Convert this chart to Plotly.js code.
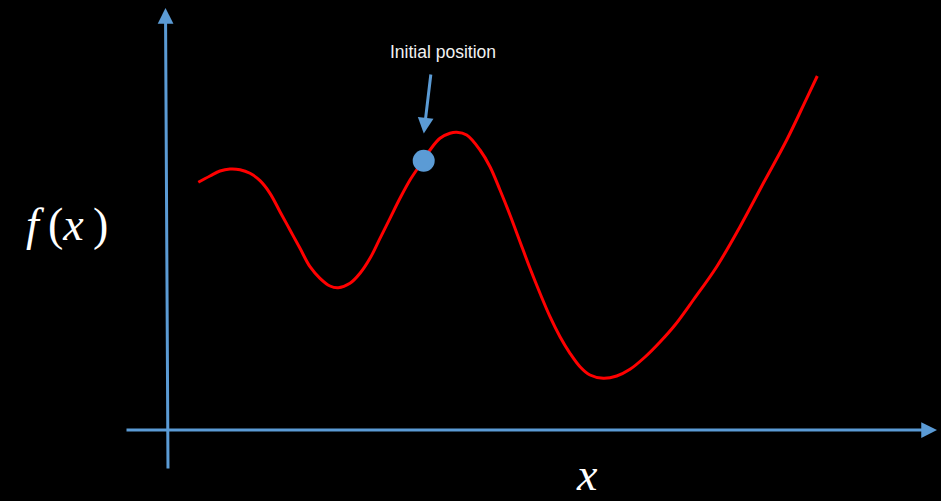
<!DOCTYPE html>
<html>
<head>
<meta charset="utf-8">
<script src="https://cdn.plot.ly/plotly-3.0.1.min.js"></script>
<style>html,body{margin:0;padding:0;background:#000;}#chart{width:941px;height:501px;}</style>
</head>
<body>
<div id="chart"></div>
<script>
// Curve f(x) (origin at the axis crossing)
const curveX = [30.3, 42, 52, 62, 72, 82, 92, 102, 112, 122, 132, 142, 152, 162, 170.3, 182, 192, 202, 212, 222, 232, 242, 252, 262, 272, 282, 288.7, 298.7, 312, 322, 332, 342, 352, 362, 372, 382, 392, 402, 412, 422, 435.3, 448.7, 462, 477, 492, 507, 525.3, 548.7, 572, 595.3, 618.7, 638.7, 649.3];
const curveY = [247.7, 254, 259, 261, 260.3, 256.7, 249.3, 236.7, 218.3, 200, 181.7, 163.3, 151.7, 144, 142.3, 146.7, 156.7, 171.7, 191.7, 211.7, 231.7, 250, 265, 280, 291.7, 296.7, 297.7, 295, 280, 263.3, 240, 215, 188.3, 161.7, 136.7, 113.3, 93.3, 76.7, 63.3, 55, 51.7, 54, 60.7, 73, 88, 105, 130, 163.3, 203.3, 246.7, 290, 331.7, 354];
// Initial position point
const pointX = [255.7];
const pointY = [269.2];
const pointLabel = "Initial position";
const xLabel = "x";
const yLabel = "f(x)";

const blue = "#5B9BD5";

const traces = [
  {x: curveX, y: curveY, mode: "lines", line: {color: "#FF0000", width: 3, shape: "spline", smoothing: 1}, hoverinfo: "skip"},
  {x: pointX, y: pointY, mode: "markers", marker: {color: blue, size: 22}, hoverinfo: "skip"}
];

const layout = {
  width: 941, height: 501,
  margin: {l: 0, r: 0, t: 0, b: 0},
  paper_bgcolor: "#000", plot_bgcolor: "#000",
  showlegend: false,
  xaxis: {range: [-168, 773], visible: false, fixedrange: true},
  yaxis: {range: [-71, 430], visible: false, fixedrange: true},
  annotations: [
    // x axis arrow
    {x: 769, y: 0, ax: -43, ay: 0, xref: "x", yref: "y", axref: "x", ayref: "y",
     showarrow: true, arrowhead: 2, arrowwidth: 3, arrowsize: 1.05, arrowcolor: blue, text: ""},
    // y axis arrow
    {x: -2.5, y: 422, ax: 0, ay: -40, xref: "x", yref: "y", axref: "x", ayref: "y",
     showarrow: true, arrowhead: 2, arrowwidth: 3, arrowsize: 1.05, arrowcolor: blue, text: ""},
    // pointer to initial position
    {x: 255.8, y: 296.5, ax: 263, ay: 357, xref: "x", yref: "y", axref: "x", ayref: "y",
     showarrow: true, arrowhead: 2, arrowwidth: 3, arrowsize: 1.05, arrowcolor: blue, text: ""},
    {x: 274.7, y: 378.3, xref: "x", yref: "y", showarrow: false, text: pointLabel,
     font: {family: "Liberation Sans, Arial, sans-serif", size: 17.5, color: "#f2f2f2"}},
    {x: -101.5, y: 206, xref: "x", yref: "y", showarrow: false,
     text: "<i>f</i>\u2009(<i>x</i>\u2009)",
     font: {family: "Liberation Serif, Times New Roman, serif", size: 46, color: "#ffffff"}},
    {x: 418.5, y: -44, xref: "x", yref: "y", showarrow: false,
     text: "<i>" + xLabel + "</i>",
     font: {family: "Liberation Serif, Times New Roman, serif", size: 46, color: "#ffffff"}}
  ]
};

Plotly.newPlot("chart", traces, layout, {staticPlot: true, displayModeBar: false});
</script>
</body>
</html>
